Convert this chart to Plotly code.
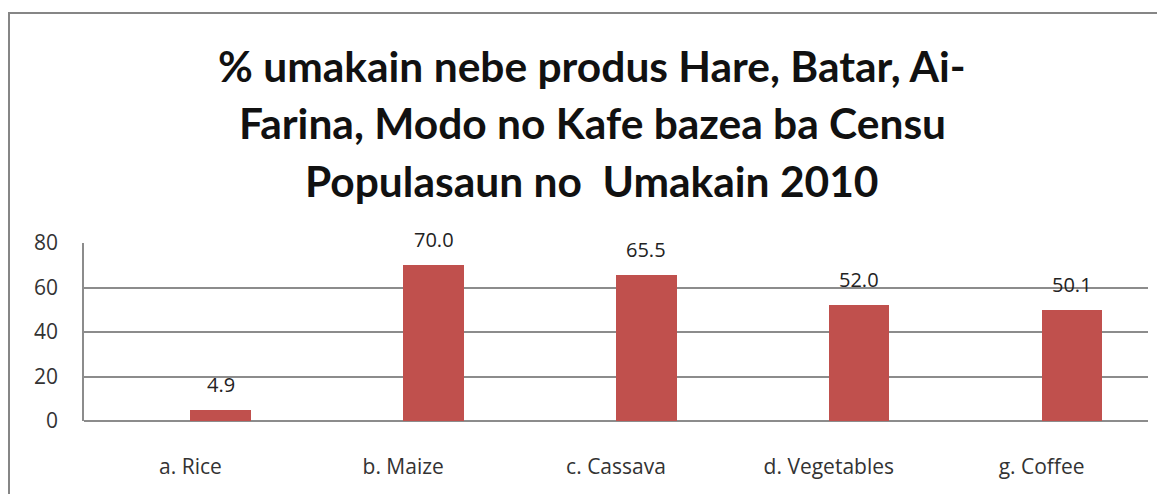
import plotly.graph_objects as go

categories = ["a. Rice", "b. Maize", "c. Cassava", "d. Vegetables", "g. Coffee"]
values = [4.9, 70.0, 65.5, 52.0, 50.1]
value_labels = ["4.9", "70.0", "65.5", "52.0", "50.1"]
y_ticks = [0, 20, 40, 60, 80]

title_lines = ["% umakain nebe produs Hare, Batar, Ai-",
               "Farina, Modo no Kafe bazea ba Censu",
               "Populasaun no  Umakain 2010"]

BAR_COLOR = "#C0504D"
GRID = "#8C8C8C"
FONT = "Open Sans"
TITLE_FONT = "Lato"

# page body has an 8px margin; figure coordinates are page coordinates - 8
OFF = 8
W, H = 1165 - 2 * OFF, 502 - 2 * OFF
L = 84 - OFF
T = 243 - OFF
R = W - (1148 - OFF)
B = H - (421 - OFF)
plot_w = W - L - R
plot_h = H - T - B
bar_w = 0.285


def px_x(page_x):
    return (page_x - OFF - L) / plot_w


def px_y(page_y):
    return (H - B - (page_y - OFF)) / plot_h


fig = go.Figure()
fig.add_trace(go.Bar(
    x=categories, y=values,
    marker=dict(color=BAR_COLOR, line=dict(width=0)),
    width=bar_w, offset=0,
    hoverinfo="x+y",
))

cat_px = plot_w / len(categories)
for c, v, t in zip(categories, values, value_labels):
    fig.add_annotation(
        x=c, y=v, text=t, showarrow=False,
        xanchor="center", yanchor="bottom",
        xshift=bar_w * cat_px / 2, yshift=10,
        font=dict(family=FONT, size=20, color="#222222"),
    )

# title, one annotation per line
for line, cy in zip(title_lines, [66, 123, 180]):
    fig.add_annotation(
        x=px_x(592), y=px_y(cy), xref="paper", yref="paper",
        xanchor="center", yanchor="middle", showarrow=False,
        text=line, align="center",
        font=dict(family=TITLE_FONT, size=42.5, color="#111111", weight="bold"),
    )

# outer chart border (left and top visible)
fig.add_shape(
    type="rect", xref="paper", yref="paper",
    x0=px_x(9), x1=px_x(1300),
    y0=px_y(700), y1=px_y(13),
    line=dict(color="#868686", width=2), fillcolor="rgba(0,0,0,0)",
    layer="below",
)

fig.update_layout(
    width=W, height=H,
    margin=dict(l=L, r=R, t=T, b=B, pad=0, autoexpand=False),
    paper_bgcolor="white", plot_bgcolor="white",
    showlegend=False,
    xaxis=dict(
        type="category", categoryorder="array", categoryarray=categories,
        showgrid=False, showline=False, zeroline=False, ticks="",
        tickfont=dict(family=FONT, size=21, color="#333333"),
        ticklabelstandoff=31,
    ),
    yaxis=dict(
        range=[0, 80], tickvals=y_ticks, showgrid=True,
        gridcolor=GRID, gridwidth=1.5,
        showline=True, linecolor=GRID, linewidth=1.5,
        zeroline=True, zerolinecolor=GRID, zerolinewidth=1.5,
        ticks="", tickfont=dict(family=FONT, size=21, color="#333333"),
        ticklabelstandoff=20,
    ),
    bargap=0,
)

fig.write_html("out.html")
